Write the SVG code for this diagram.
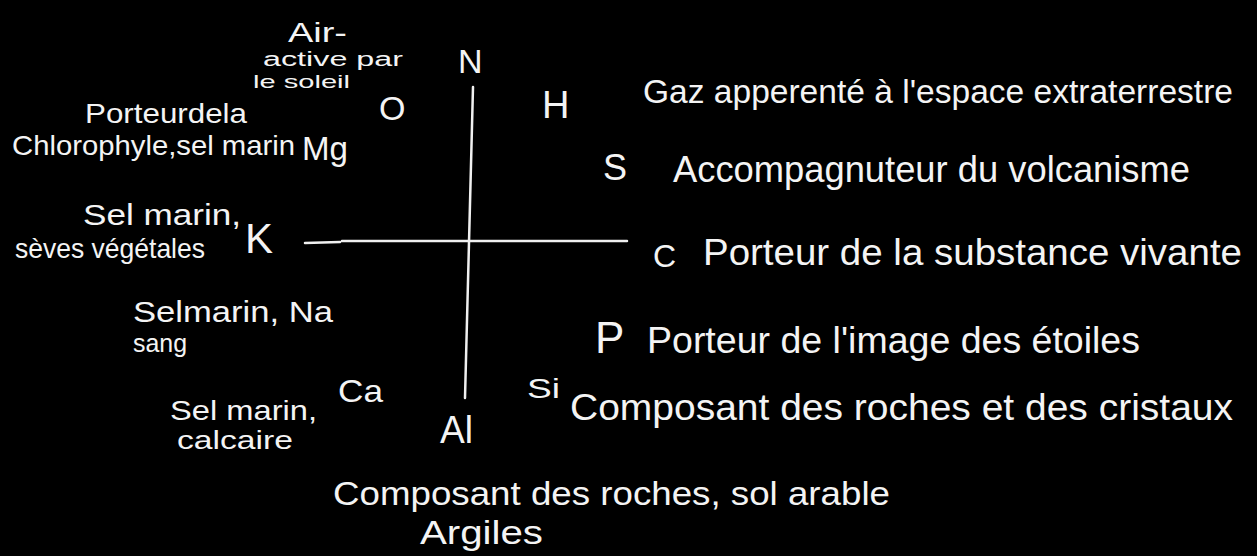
<svg xmlns="http://www.w3.org/2000/svg" width="1257" height="556" viewBox="0 0 1257 556">
<style>
text{font-family:"Liberation Sans","Open Sans",sans-serif;fill:#f4f4f4}
.ax{stroke:#f0f0f0;stroke-width:2.5;fill:none;stroke-linecap:round}
</style>
<rect width="1257" height="556" fill="#000"/>
<g id="connectors">
<path class="ax" d="M473,87 C471,150 469,250 465,398"/>
<path class="ax" d="M305,243 L340,242 M342,241 L627,241"/>
</g>
<g id="node-N"><text x="458" y="73" font-size="34">N</text></g>
<g id="node-O">
<text x="288" y="42" font-size="28" textLength="59" lengthAdjust="spacingAndGlyphs">Air-</text>
<text x="263" y="66" font-size="20" textLength="140" lengthAdjust="spacingAndGlyphs">active par</text>
<text x="253" y="88" font-size="19" textLength="97" lengthAdjust="spacingAndGlyphs">le soleil</text>
<text x="379" y="120" font-size="34">O</text>
</g>
<g id="node-H">
<text x="542" y="118" font-size="38">H</text>
<text x="643" y="103" font-size="34" textLength="590" lengthAdjust="spacingAndGlyphs">Gaz apperenté à l'espace extraterrestre</text>
</g>
<g id="node-Mg">
<text x="85" y="123" font-size="28" textLength="162" lengthAdjust="spacingAndGlyphs">Porteurdela</text>
<text x="12" y="155" font-size="28" textLength="283" lengthAdjust="spacingAndGlyphs">Chlorophyle,sel marin</text>
<text x="302" y="160" font-size="34" textLength="46" lengthAdjust="spacingAndGlyphs">Mg</text>
</g>
<g id="node-S">
<text x="603" y="180" font-size="36">S</text>
<text x="673" y="182" font-size="36" textLength="517" lengthAdjust="spacingAndGlyphs">Accompagnuteur du volcanisme</text>
</g>
<g id="node-K">
<text x="83" y="225" font-size="30" textLength="158" lengthAdjust="spacingAndGlyphs">Sel marin,</text>
<text x="15" y="258" font-size="28" textLength="190" lengthAdjust="spacingAndGlyphs">sèves végétales</text>
<text x="245" y="253" font-size="42">K</text>
</g>
<g id="node-C">
<text x="653" y="267" font-size="32">C</text>
<text x="703" y="265" font-size="36" textLength="539" lengthAdjust="spacingAndGlyphs">Porteur de la substance vivante</text>
</g>
<g id="node-Na">
<text x="133" y="322" font-size="30" textLength="200" lengthAdjust="spacingAndGlyphs">Selmarin, Na</text>
<text x="133" y="352" font-size="25" textLength="54" lengthAdjust="spacingAndGlyphs">sang</text>
</g>
<g id="node-P">
<text x="595" y="353" font-size="44">P</text>
<text x="647" y="353" font-size="36" textLength="493" lengthAdjust="spacingAndGlyphs">Porteur de l'image des étoiles</text>
</g>
<g id="node-Ca">
<text x="338" y="402" font-size="32" textLength="45" lengthAdjust="spacingAndGlyphs">Ca</text>
<text x="170" y="420" font-size="28" textLength="147" lengthAdjust="spacingAndGlyphs">Sel marin,</text>
<text x="177" y="449" font-size="25" textLength="116" lengthAdjust="spacingAndGlyphs">calcaire</text>
</g>
<g id="node-Si">
<text x="527" y="398" font-size="28" textLength="33" lengthAdjust="spacingAndGlyphs">Si</text>
<text x="570" y="420" font-size="36" textLength="663" lengthAdjust="spacingAndGlyphs">Composant des roches et des cristaux</text>
</g>
<g id="node-Al">
<text x="440" y="443" font-size="38" textLength="33" lengthAdjust="spacingAndGlyphs">Al</text>
<text x="333" y="505" font-size="34" textLength="557" lengthAdjust="spacingAndGlyphs">Composant des roches, sol arable</text>
<text x="420" y="544" font-size="34" textLength="123" lengthAdjust="spacingAndGlyphs">Argiles</text>
</g>
</svg>
